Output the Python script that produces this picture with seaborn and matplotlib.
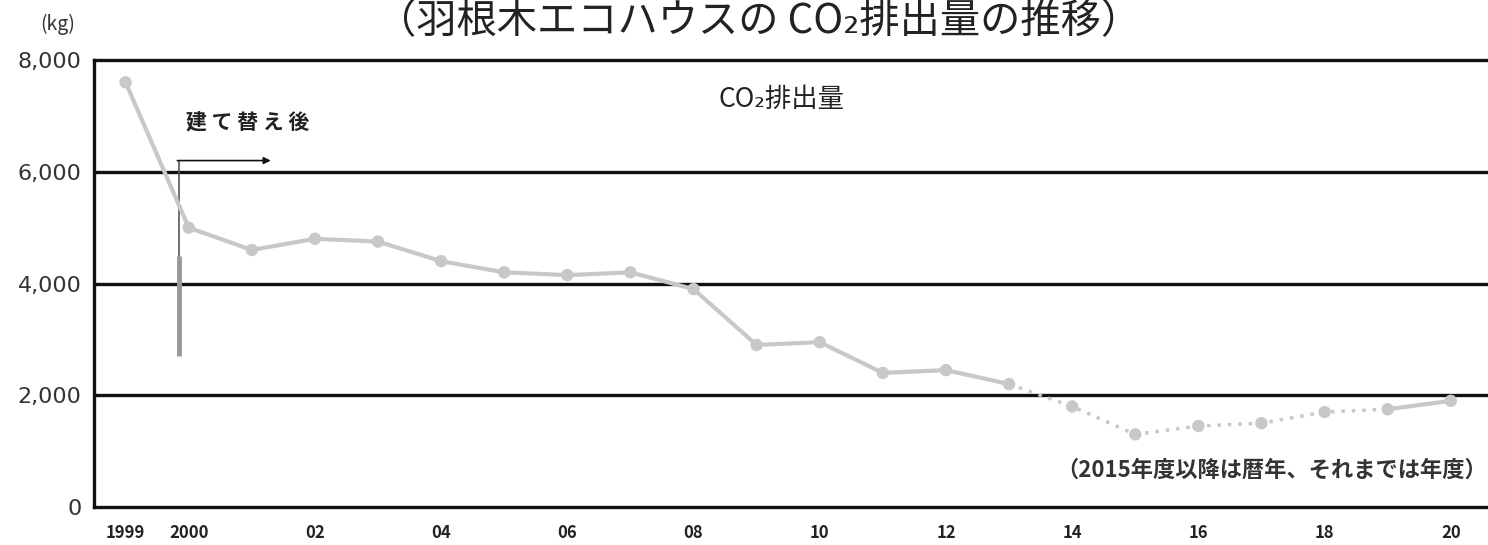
import matplotlib
matplotlib.use("Agg")
import matplotlib.pyplot as plt
import numpy as np
import pandas as pd
import seaborn as sns

# データ
years = list(range(1999, 2021))
year_labels = ["1999", "2000", "", "02", "", "04", "", "06", "", "08", "", "10",
               "", "12", "", "14", "", "16", "", "18", "", "20"]
co2 = [7600, 5000, 4600, 4800, 4750, 4400, 4200, 4150, 4200, 3900, 2900, 2950,
       2400, 2450, 2200, 1800, 1300, 1450, 1500, 1700, 1750, 1900]
y_ticks = [0, 2000, 4000, 6000, 8000]
y_labels = ["0", "2,000", "4,000", "6,000", "8,000"]

df = pd.DataFrame({"pos": np.arange(len(years)), "year": years, "co2": co2})

sns.set_style("white")
plt.rcParams['font.family'] = ['Noto Sans CJK JP', 'DejaVu Sans']

fig = plt.figure(figsize=(14.88, 5.45), dpi=100)
ax = fig.add_axes([0.0632, 0.0697, 1.0 - 0.0632, 0.8202])

gris = "#c8c8c8"
# 実線部分と点線部分
tramo1 = df[df["year"] <= 2013]
tramo2 = df[(df["year"] >= 2013) & (df["year"] <= 2019)]
tramo3 = df[df["year"] >= 2019]
sns.lineplot(data=tramo1, x="pos", y="co2", ax=ax, color=gris, lw=3, zorder=3)
sns.lineplot(data=tramo2, x="pos", y="co2", ax=ax, color=gris, lw=2.5,
             linestyle=(0, (1, 2)), zorder=3)
sns.lineplot(data=tramo3, x="pos", y="co2", ax=ax, color=gris, lw=3, zorder=3)
sns.scatterplot(data=df, x="pos", y="co2", ax=ax, color=gris, s=80,
                edgecolor="none", zorder=4)

ax.set_xlim(-0.5, 21.59)
ax.set_ylim(0, 8000)

# 目盛り
ax.set_yticks(y_ticks)
ax.set_yticklabels(y_labels, fontsize=16, color="#333333", family="Liberation Sans Narrow")
ax.set_xticks(df["pos"])
ax.set_xticklabels(year_labels, fontsize=12, fontweight="bold", color="#222222")
ax.set_xticks(np.arange(0.5, 21.5, 1), minor=True)
ax.tick_params(axis="x", which="major", length=0, pad=12)
ax.tick_params(axis="x", which="minor", direction="in", length=7, width=2, color="#111111")
ax.tick_params(axis="y", length=0, pad=9)
ax.set_xlabel("")
ax.set_ylabel("")

for v in [2000, 4000, 6000]:
    ax.axhline(v, color="#111111", lw=2.4, zorder=1)

for lado in ["left", "bottom", "top"]:
    ax.spines[lado].set_color("#111111")
    ax.spines[lado].set_linewidth(2.4)
ax.spines["right"].set_visible(False)

# 建て替え後マーカー
xm = 0.84
ax.plot([xm, xm], [2700, 4500], color="#999999", lw=3.5, zorder=2, solid_capstyle="butt")
ax.plot([xm, xm], [4500, 6200], color="#555555", lw=1.2, zorder=2)
ax.annotate("", xy=(2.3, 6200), xytext=(xm - 0.02, 6200),
            arrowprops=dict(arrowstyle="-|>", color="#111111", lw=1.2,
                            mutation_scale=10, shrinkA=0, shrinkB=0))
ax.text(0.95, 6870, "建 て 替 え 後", fontsize=15, fontweight="bold", color="#222222",
        va="center", ha="left")

ax.text(9.4, 7300, "CO₂排出量", fontsize=19, color="#222222", va="center", ha="left")
ax.text(21.57, 650, "（2015年度以降は暦年、それまでは年度）", fontsize=16,
        fontweight="bold", color="#333333", va="center", ha="right")

fig.text(0.51, 0.998, "（羽根木エコハウスの CO₂排出量の推移）", fontsize=29,
         color="#222222", ha="center", va="top")
fig.text(0.027, 0.955, "(kg)", fontsize=14, color="#333333", ha="left", va="center")

fig.savefig("out.png", dpi=100)
